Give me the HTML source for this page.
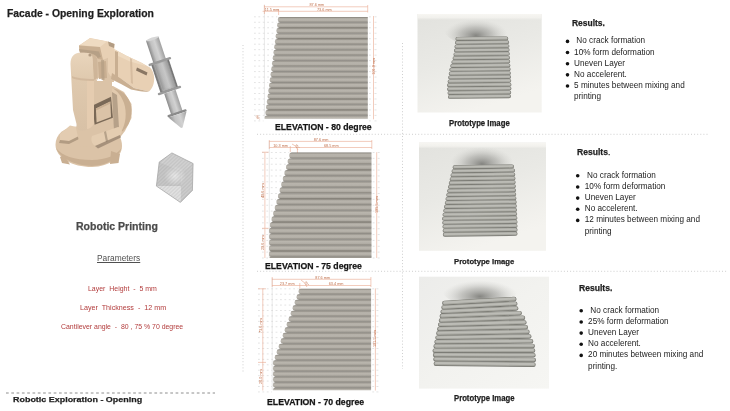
<!DOCTYPE html>
<html><head><meta charset="utf-8"><style>
html,body{margin:0;padding:0;background:#fff;}
body{width:730px;height:411px;overflow:hidden;position:relative;font-family:'Liberation Sans', sans-serif;}
.t{position:absolute;white-space:nowrap;line-height:1;transform-origin:0 0;}
.layer{position:absolute;left:0;top:0;width:730px;height:411px;will-change:transform;}
svg{position:absolute;left:0;top:0;will-change:transform;}
</style></head><body>
<svg width="730" height="411" viewBox="0 0 730 411">
<defs>
<linearGradient id="stripe" x1="0" y1="0" x2="0" y2="1">
 <stop offset="0" stop-color="#76726a"/>
 <stop offset="0.14" stop-color="#a29e96"/>
 <stop offset="0.35" stop-color="#b9b5ad"/>
 <stop offset="0.68" stop-color="#b3afa7"/>
 <stop offset="0.87" stop-color="#9b978f"/>
 <stop offset="1" stop-color="#706c64"/>
</linearGradient>
</defs>
<defs><linearGradient id="uarm" x1="0" y1="0" x2="0" y2="1">
<stop offset="0" stop-color="#e9d5bc"/><stop offset="0.35" stop-color="#dfc9ae"/><stop offset="1" stop-color="#d8c1a6"/></linearGradient></defs>
<g id="robot">
<path d="M55.5,145 C55.5,134 64,127 78,126.5 L108,128 C117,130 122,137 122,146 C122,157 110,166.5 92,167 C72,167 56,158 55.5,145Z" fill="#dbc3a7"/>
<path d="M56,148 C60,158 74,165.5 92,166 C108,165.5 118,158 121.5,148 C117,155 106,160 92,160 C74,160 62,156 56,148Z" fill="#c9af92"/>
<path d="M64,155 L70,164.5 L62,163 L60,157Z" fill="#c9af92"/>
<path d="M111,151 L120,154 L118.5,163 L110,164Z" fill="#c9af92"/>
<path d="M60,134 L70,125.5 L79,127.5 L79,136 L69,141 L60,140Z" fill="#e3ccb1"/>
<path d="M60,140 L69,141 L79,136 L79,139 L69,144 L59,143Z" fill="#b29c83"/>
<path d="M92,76 L101,76 L104,80 L112,80 L112,90 L92,92Z" fill="#dbc3a7"/>
<path d="M96,76 L101,76 L103,81 L97,81Z" fill="#ffffff"/>
<path d="M86,86 L113,86 L124,92 L131.5,104 L131.5,118 L125,131 L118,140 L100,148 L80,146 L76,128Z" fill="#dbc3a7"/>
<path d="M112,88.5 C123,89.5 131.5,99 131.5,110 C131.5,121 127,129 121,132 L114,131Z" fill="#e2caae"/>
<path d="M113,88.5 C124,90 131.5,100 131.5,110 C131.5,121 127,129 121,132 C126,124 127,112 124,103 C121,95 117,91 113,88.5Z" fill="#c9af92"/>
<path d="M112,92 L117,95 L119,128 L114,131Z" fill="#8a7764" opacity="0.5"/>
<path d="M92.6,105.5 L111,96.8 L112.9,117.8 L94.6,124.8Z" fill="#7a6957"/>
<path d="M95.9,108.4 L110.3,101.6 L111,117 L96.6,122.4Z" fill="#dbc3a7"/>
<path d="M95.9,108.4 L110.3,101.6 L110.4,103.6 L96.1,110.4Z" fill="#c9af92"/>
<path d="M92,136 L118,127 C122,127 123,132 120,135 L97,145.5 C93,147 90,140 92,136Z" fill="#e4cdb1"/>
<path d="M95,146 L120,135 L121,137.5 L98,148.5Z" fill="#8a7764" opacity="0.65"/>
<path d="M104,132 L106,131 L108,141 L106,142Z" fill="#8a7764" opacity="0.5"/>
<path d="M96,50 L112,48 L114,82 L104,82 L101,75 L97,80Z" fill="#dbc3a7"/>
<path d="M98,62 L106,61 L107,78 L99,79Z" fill="#c9af92"/>
<path d="M101,58 L104,57.5 L104.5,80 L101.5,80Z" fill="#b29c83" opacity="0.7"/>
<path d="M70.5,64 C70.5,56 75,52.5 81,52.5 L91,52.5 C95.5,53 97.7,56 97.7,61 L97.7,78 L94,80 L94,124 C91,129 84,132 78,130 L73,110 L70.5,64Z" fill="url(#uarm)"/>
<path d="M87,80 L94,80 L94,124 C92,127 89,129 87,129Z" fill="#e5ccb0"/>
<path d="M91,53 C95.5,54 97.7,57 97.7,62 L97.7,78 L94,80 L93,66 C93,60 93,56 91,53Z" fill="#c9af92" opacity="0.8"/>
<path d="M72,76 C76,78 84,79 94,79 L94,81 C84,81 76,80 72,78Z" fill="#c9af92" opacity="0.6"/>
<circle cx="90" cy="55" r="1.6" fill="#b29c83"/>
<path d="M79,45.5 L90,38 L108,41.5 L114.5,44 L114,55 L103,60 L97.7,59 C95,53 90,52 80,52.5 L79,50Z" fill="#e8d0b4"/>
<path d="M80,45 L90,38.3 L107,41.6 L100,47 Z" fill="#efdbc2"/>
<path d="M79,45.5 L100,47 L103,60 L97.7,59 C96,54 90,52.5 80,52.5Z" fill="#c9af92"/>
<path d="M79,49 L99,51.5 L101,57 L97.7,58 C96,54 90,52.5 80,52.5Z" fill="#b29c83" opacity="0.8"/>
<path d="M108,41.5 L114.5,44 L114,48 L109,46Z" fill="#b29c83"/>
<path d="M108,49 L114,49 L126,55.5 L142,63 L150,67.5 C155,72 156.5,85 149,91.5 L134,88 L123,80 L110.5,76 L108,72Z" fill="#e8d0b4"/>
<path d="M112,73 L123,80 L134,88 L149,91.5 C144,92.5 138,91 131,89.5 L121,84 L111,79Z" fill="#c9af92"/>
<path d="M114,49 L126,55.5 L142,63 L146,66 L130,61.5 L116,55Z" fill="#efdbc2"/>
<path d="M137,67.5 L147.5,72.5 L146.5,75.5 L136,70.5Z" fill="#8a7764"/>
<path d="M115,51 L118,52 L118,78 L115,77Z" fill="#c9af92"/>
<path d="M130,58 L132,59 L133,84 L131,83Z" fill="#c9af92" opacity="0.6"/>
</g>
<defs><linearGradient id="cyl" x1="0" y1="0" x2="1" y2="0">
<stop offset="0" stop-color="#8a8a8a"/><stop offset="0.3" stop-color="#c2c2c2"/><stop offset="0.6" stop-color="#d2d2d2"/><stop offset="1" stop-color="#a0a0a0"/></linearGradient>
<linearGradient id="cyl2" x1="0" y1="0" x2="1" y2="0">
<stop offset="0" stop-color="#6a6a6a"/><stop offset="0.15" stop-color="#a8a8a8"/><stop offset="0.6" stop-color="#bdbdbd"/><stop offset="0.88" stop-color="#a0a0a0"/><stop offset="1" stop-color="#666"/></linearGradient></defs>
<g transform="translate(152.2,38.6) rotate(-18.4)">
<rect x="-6.6" y="0" width="13.2" height="24" fill="url(#cyl)"/>
<ellipse cx="0" cy="0.3" rx="6.6" ry="1.4" fill="#d6d6d6"/>
<rect x="-8.8" y="24" width="17.6" height="30" fill="url(#cyl2)" stroke="#6a6a6a" stroke-width="0.6"/>
<rect x="-6" y="26" width="12" height="26" fill="url(#cyl)" opacity="0.5"/>
<rect x="-11.8" y="23" width="23.6" height="2.4" rx="1" fill="#9a9a9a"/>
<rect x="-12.2" y="53.5" width="24.4" height="2.4" rx="1" fill="#9a9a9a"/>
<rect x="-6" y="56" width="12" height="22" fill="url(#cyl)"/>
<rect x="-10" y="77.5" width="20" height="2.4" rx="1" fill="#8a8a8a"/>
<path d="M-9.5,80 L9.5,80 L0.8,94 L-0.8,94Z" fill="url(#cyl)"/>
</g>
<defs><pattern id="hatch" width="1.3" height="1.3" patternUnits="userSpaceOnUse" patternTransform="rotate(20)">
<line x1="0" y1="0.3" x2="1.3" y2="0.3" stroke="#6a6a6a" stroke-width="0.45"/></pattern>
<pattern id="hatch2" width="1.3" height="1.3" patternUnits="userSpaceOnUse" patternTransform="rotate(-60)">
<line x1="0" y1="0.3" x2="1.3" y2="0.3" stroke="#6a6a6a" stroke-width="0.45"/></pattern>
<radialGradient id="cubec" cx="0.5" cy="0.5" r="0.5"><stop offset="0" stop-color="#ebebeb"/><stop offset="1" stop-color="#ebebeb" stop-opacity="0"/></radialGradient></defs>
<g id="cube">
<polygon points="171.9,152.9 193.1,163.5 192.4,190.4 180.4,202.4 156.4,186.1 159.2,162.1" fill="#e0e0e0"/>
<polygon points="171.9,152.9 193.1,163.5 181.8,171.3 159.2,162.1" fill="#d2d2d2"/>
<polygon points="159.2,162.1 181.8,171.3 181,186 156.4,186.1" fill="#c8c8c8"/>
<polygon points="181.8,171.3 193.1,163.5 192.4,190.4 180.4,202.4 181,186" fill="#cdcdcd"/>
<polygon points="156.4,186.1 181,186 180.4,202.4" fill="#e2e2e2"/>
<ellipse cx="175" cy="176" rx="11" ry="10" fill="url(#cubec)"/>
<polygon points="171.9,152.9 193.1,163.5 192.4,190.4 180.4,202.4 156.4,186.1 159.2,162.1" fill="url(#hatch)" opacity="0.2"/>
<polygon points="171.9,152.9 193.1,163.5 192.4,190.4 180.4,202.4 156.4,186.1 159.2,162.1" fill="none" stroke="#a4a4a4" stroke-width="0.7"/>
</g>
<line x1="243" y1="45" x2="243" y2="373" stroke="#cacaca" stroke-width="0.9" stroke-dasharray="1 2.1"/>
<line x1="402.5" y1="43" x2="402.5" y2="369" stroke="#cacaca" stroke-width="0.9" stroke-dasharray="1 2.1"/>
<line x1="257" y1="134.3" x2="709" y2="134.3" stroke="#cacaca" stroke-width="0.9" stroke-dasharray="1 2.1"/>
<line x1="257" y1="271.3" x2="727" y2="271.3" stroke="#cacaca" stroke-width="0.9" stroke-dasharray="1 2.1"/>
<line x1="6" y1="393" x2="215" y2="393" stroke="#8e8e8e" stroke-width="1" stroke-dasharray="2.7 2.6"/>
<defs>
<radialGradient id="shadow" cx="0.5" cy="0.7" r="0.5">
 <stop offset="0" stop-color="#80807c" stop-opacity="0.95"/>
 <stop offset="0.5" stop-color="#a0a09c" stop-opacity="0.55"/>
 <stop offset="1" stop-color="#c8c8c4" stop-opacity="0"/>
</radialGradient>
<linearGradient id="pbg1" x1="0" y1="0" x2="0.4" y2="1">
 <stop offset="0" stop-color="#e2e2de"/>
 <stop offset="0.5" stop-color="#e9e9e5"/>
 <stop offset="1" stop-color="#f4f3ef"/>
</linearGradient>
<linearGradient id="topfade" x1="0" y1="0" x2="0" y2="1">
 <stop offset="0" stop-color="#f7f6f2" stop-opacity="1"/>
 <stop offset="0.6" stop-color="#f5f4f0" stop-opacity="0.8"/>
 <stop offset="1" stop-color="#f2f1ed" stop-opacity="0"/>
</linearGradient>
<linearGradient id="pbg3" x1="0" y1="0" x2="1" y2="1">
 <stop offset="0" stop-color="#ececea"/>
 <stop offset="0.5" stop-color="#f2f2ef"/>
 <stop offset="1" stop-color="#f6f6f3"/>
</linearGradient>
</defs>
<rect x="417.5" y="14" width="124.20" height="98.50" fill="url(#pbg1)"/>
<rect x="417.5" y="14" width="124.20" height="6" fill="url(#topfade)"/>
<ellipse cx="476" cy="29" rx="32" ry="16" fill="url(#shadow)"/>
<line x1="457.45" y1="38.93" x2="506.28" y2="38.43" stroke="#73736d" stroke-width="3.94" stroke-linecap="round"/>
<line x1="457.45" y1="38.70" x2="506.28" y2="38.20" stroke="#a5a59e" stroke-width="3.09" stroke-linecap="round"/>
<line x1="457.45" y1="38.47" x2="506.28" y2="37.97" stroke="#bcbcb6" stroke-width="1.74" stroke-linecap="round"/>
<line x1="456.95" y1="42.79" x2="507.19" y2="42.28" stroke="#73736d" stroke-width="3.94" stroke-linecap="round"/>
<line x1="456.95" y1="42.56" x2="507.19" y2="42.05" stroke="#a5a59e" stroke-width="3.09" stroke-linecap="round"/>
<line x1="456.95" y1="42.33" x2="507.19" y2="41.82" stroke="#bcbcb6" stroke-width="1.74" stroke-linecap="round"/>
<line x1="456.44" y1="46.66" x2="507.40" y2="46.14" stroke="#73736d" stroke-width="3.94" stroke-linecap="round"/>
<line x1="456.44" y1="46.42" x2="507.40" y2="45.91" stroke="#a5a59e" stroke-width="3.09" stroke-linecap="round"/>
<line x1="456.44" y1="46.19" x2="507.40" y2="45.68" stroke="#bcbcb6" stroke-width="1.74" stroke-linecap="round"/>
<line x1="455.94" y1="50.52" x2="507.61" y2="50.00" stroke="#73736d" stroke-width="3.94" stroke-linecap="round"/>
<line x1="455.94" y1="50.29" x2="507.61" y2="49.77" stroke="#a5a59e" stroke-width="3.09" stroke-linecap="round"/>
<line x1="455.94" y1="50.06" x2="507.61" y2="49.53" stroke="#bcbcb6" stroke-width="1.74" stroke-linecap="round"/>
<line x1="455.44" y1="54.38" x2="507.81" y2="53.85" stroke="#73736d" stroke-width="3.94" stroke-linecap="round"/>
<line x1="455.44" y1="54.15" x2="507.81" y2="53.62" stroke="#a5a59e" stroke-width="3.09" stroke-linecap="round"/>
<line x1="455.44" y1="53.92" x2="507.81" y2="53.39" stroke="#bcbcb6" stroke-width="1.74" stroke-linecap="round"/>
<line x1="454.56" y1="58.24" x2="508.02" y2="57.71" stroke="#73736d" stroke-width="3.94" stroke-linecap="round"/>
<line x1="454.56" y1="58.01" x2="508.02" y2="57.48" stroke="#a5a59e" stroke-width="3.09" stroke-linecap="round"/>
<line x1="454.56" y1="57.78" x2="508.02" y2="57.25" stroke="#bcbcb6" stroke-width="1.74" stroke-linecap="round"/>
<line x1="453.40" y1="62.11" x2="508.23" y2="61.57" stroke="#73736d" stroke-width="3.94" stroke-linecap="round"/>
<line x1="453.40" y1="61.87" x2="508.23" y2="61.33" stroke="#a5a59e" stroke-width="3.09" stroke-linecap="round"/>
<line x1="453.40" y1="61.64" x2="508.23" y2="61.10" stroke="#bcbcb6" stroke-width="1.74" stroke-linecap="round"/>
<line x1="452.25" y1="65.97" x2="508.43" y2="65.42" stroke="#73736d" stroke-width="3.94" stroke-linecap="round"/>
<line x1="452.25" y1="65.74" x2="508.43" y2="65.19" stroke="#a5a59e" stroke-width="3.09" stroke-linecap="round"/>
<line x1="452.25" y1="65.51" x2="508.43" y2="64.96" stroke="#bcbcb6" stroke-width="1.74" stroke-linecap="round"/>
<line x1="451.27" y1="69.83" x2="508.64" y2="69.28" stroke="#73736d" stroke-width="3.94" stroke-linecap="round"/>
<line x1="451.27" y1="69.60" x2="508.64" y2="69.05" stroke="#a5a59e" stroke-width="3.09" stroke-linecap="round"/>
<line x1="451.27" y1="69.37" x2="508.64" y2="68.81" stroke="#bcbcb6" stroke-width="1.74" stroke-linecap="round"/>
<line x1="450.70" y1="73.69" x2="508.85" y2="73.13" stroke="#73736d" stroke-width="3.94" stroke-linecap="round"/>
<line x1="450.70" y1="73.46" x2="508.85" y2="72.90" stroke="#a5a59e" stroke-width="3.09" stroke-linecap="round"/>
<line x1="450.70" y1="73.23" x2="508.85" y2="72.67" stroke="#bcbcb6" stroke-width="1.74" stroke-linecap="round"/>
<line x1="450.14" y1="77.56" x2="509.05" y2="76.99" stroke="#73736d" stroke-width="3.94" stroke-linecap="round"/>
<line x1="450.14" y1="77.32" x2="509.05" y2="76.76" stroke="#a5a59e" stroke-width="3.09" stroke-linecap="round"/>
<line x1="450.14" y1="77.09" x2="509.05" y2="76.53" stroke="#bcbcb6" stroke-width="1.74" stroke-linecap="round"/>
<line x1="449.58" y1="81.42" x2="509.26" y2="80.85" stroke="#73736d" stroke-width="3.94" stroke-linecap="round"/>
<line x1="449.58" y1="81.19" x2="509.26" y2="80.62" stroke="#a5a59e" stroke-width="3.09" stroke-linecap="round"/>
<line x1="449.58" y1="80.96" x2="509.26" y2="80.38" stroke="#bcbcb6" stroke-width="1.74" stroke-linecap="round"/>
<line x1="449.02" y1="85.28" x2="509.47" y2="84.70" stroke="#73736d" stroke-width="3.94" stroke-linecap="round"/>
<line x1="449.02" y1="85.05" x2="509.47" y2="84.47" stroke="#a5a59e" stroke-width="3.09" stroke-linecap="round"/>
<line x1="449.02" y1="84.82" x2="509.47" y2="84.24" stroke="#bcbcb6" stroke-width="1.74" stroke-linecap="round"/>
<line x1="449.10" y1="89.14" x2="509.46" y2="88.56" stroke="#73736d" stroke-width="3.94" stroke-linecap="round"/>
<line x1="449.10" y1="88.91" x2="509.46" y2="88.33" stroke="#a5a59e" stroke-width="3.09" stroke-linecap="round"/>
<line x1="449.10" y1="88.68" x2="509.46" y2="88.10" stroke="#bcbcb6" stroke-width="1.74" stroke-linecap="round"/>
<line x1="449.50" y1="93.01" x2="509.24" y2="92.42" stroke="#73736d" stroke-width="3.94" stroke-linecap="round"/>
<line x1="449.50" y1="92.77" x2="509.24" y2="92.18" stroke="#a5a59e" stroke-width="3.09" stroke-linecap="round"/>
<line x1="449.50" y1="92.54" x2="509.24" y2="91.95" stroke="#bcbcb6" stroke-width="1.74" stroke-linecap="round"/>
<line x1="449.91" y1="96.87" x2="509.02" y2="96.27" stroke="#73736d" stroke-width="3.94" stroke-linecap="round"/>
<line x1="449.91" y1="96.64" x2="509.02" y2="96.04" stroke="#a5a59e" stroke-width="3.09" stroke-linecap="round"/>
<line x1="449.91" y1="96.41" x2="509.02" y2="95.81" stroke="#bcbcb6" stroke-width="1.74" stroke-linecap="round"/>
<rect x="419" y="142.6" width="127.00" height="108.20" fill="url(#pbg1)"/>
<rect x="419" y="142.6" width="127.00" height="6" fill="url(#topfade)"/>
<ellipse cx="482" cy="157" rx="32" ry="17" fill="url(#shadow)"/>
<line x1="454.62" y1="167.28" x2="512.02" y2="166.48" stroke="#73736d" stroke-width="4.04" stroke-linecap="round"/>
<line x1="454.62" y1="167.04" x2="512.02" y2="166.24" stroke="#a5a59e" stroke-width="3.17" stroke-linecap="round"/>
<line x1="454.62" y1="166.81" x2="512.02" y2="166.01" stroke="#bcbcb6" stroke-width="1.78" stroke-linecap="round"/>
<line x1="453.57" y1="171.24" x2="513.04" y2="170.44" stroke="#73736d" stroke-width="4.04" stroke-linecap="round"/>
<line x1="453.57" y1="171.00" x2="513.04" y2="170.20" stroke="#a5a59e" stroke-width="3.17" stroke-linecap="round"/>
<line x1="453.57" y1="170.77" x2="513.04" y2="169.97" stroke="#bcbcb6" stroke-width="1.78" stroke-linecap="round"/>
<line x1="452.54" y1="175.20" x2="513.24" y2="174.40" stroke="#73736d" stroke-width="4.04" stroke-linecap="round"/>
<line x1="452.54" y1="174.97" x2="513.24" y2="174.17" stroke="#a5a59e" stroke-width="3.17" stroke-linecap="round"/>
<line x1="452.54" y1="174.73" x2="513.24" y2="173.93" stroke="#bcbcb6" stroke-width="1.78" stroke-linecap="round"/>
<line x1="451.69" y1="179.16" x2="513.43" y2="178.36" stroke="#73736d" stroke-width="4.04" stroke-linecap="round"/>
<line x1="451.69" y1="178.93" x2="513.43" y2="178.13" stroke="#a5a59e" stroke-width="3.17" stroke-linecap="round"/>
<line x1="451.69" y1="178.69" x2="513.43" y2="177.89" stroke="#bcbcb6" stroke-width="1.78" stroke-linecap="round"/>
<line x1="450.83" y1="183.12" x2="513.63" y2="182.32" stroke="#73736d" stroke-width="4.04" stroke-linecap="round"/>
<line x1="450.83" y1="182.89" x2="513.63" y2="182.09" stroke="#a5a59e" stroke-width="3.17" stroke-linecap="round"/>
<line x1="450.83" y1="182.65" x2="513.63" y2="181.85" stroke="#bcbcb6" stroke-width="1.78" stroke-linecap="round"/>
<line x1="449.98" y1="187.09" x2="513.82" y2="186.29" stroke="#73736d" stroke-width="4.04" stroke-linecap="round"/>
<line x1="449.98" y1="186.85" x2="513.82" y2="186.05" stroke="#a5a59e" stroke-width="3.17" stroke-linecap="round"/>
<line x1="449.98" y1="186.61" x2="513.82" y2="185.81" stroke="#bcbcb6" stroke-width="1.78" stroke-linecap="round"/>
<line x1="449.13" y1="191.05" x2="514.02" y2="190.25" stroke="#73736d" stroke-width="4.04" stroke-linecap="round"/>
<line x1="449.13" y1="190.81" x2="514.02" y2="190.01" stroke="#a5a59e" stroke-width="3.17" stroke-linecap="round"/>
<line x1="449.13" y1="190.57" x2="514.02" y2="189.77" stroke="#bcbcb6" stroke-width="1.78" stroke-linecap="round"/>
<line x1="448.28" y1="195.01" x2="514.22" y2="194.21" stroke="#73736d" stroke-width="4.04" stroke-linecap="round"/>
<line x1="448.28" y1="194.77" x2="514.22" y2="193.97" stroke="#a5a59e" stroke-width="3.17" stroke-linecap="round"/>
<line x1="448.28" y1="194.53" x2="514.22" y2="193.73" stroke="#bcbcb6" stroke-width="1.78" stroke-linecap="round"/>
<line x1="447.53" y1="198.97" x2="514.41" y2="198.17" stroke="#73736d" stroke-width="4.04" stroke-linecap="round"/>
<line x1="447.53" y1="198.73" x2="514.41" y2="197.93" stroke="#a5a59e" stroke-width="3.17" stroke-linecap="round"/>
<line x1="447.53" y1="198.49" x2="514.41" y2="197.69" stroke="#bcbcb6" stroke-width="1.78" stroke-linecap="round"/>
<line x1="446.78" y1="202.93" x2="514.61" y2="202.13" stroke="#73736d" stroke-width="4.04" stroke-linecap="round"/>
<line x1="446.78" y1="202.69" x2="514.61" y2="201.89" stroke="#a5a59e" stroke-width="3.17" stroke-linecap="round"/>
<line x1="446.78" y1="202.46" x2="514.61" y2="201.66" stroke="#bcbcb6" stroke-width="1.78" stroke-linecap="round"/>
<line x1="446.03" y1="206.89" x2="514.80" y2="206.09" stroke="#73736d" stroke-width="4.04" stroke-linecap="round"/>
<line x1="446.03" y1="206.65" x2="514.80" y2="205.85" stroke="#a5a59e" stroke-width="3.17" stroke-linecap="round"/>
<line x1="446.03" y1="206.42" x2="514.80" y2="205.62" stroke="#bcbcb6" stroke-width="1.78" stroke-linecap="round"/>
<line x1="445.28" y1="210.85" x2="515.00" y2="210.05" stroke="#73736d" stroke-width="4.04" stroke-linecap="round"/>
<line x1="445.28" y1="210.62" x2="515.00" y2="209.82" stroke="#a5a59e" stroke-width="3.17" stroke-linecap="round"/>
<line x1="445.28" y1="210.38" x2="515.00" y2="209.58" stroke="#bcbcb6" stroke-width="1.78" stroke-linecap="round"/>
<line x1="444.53" y1="214.81" x2="515.19" y2="214.01" stroke="#73736d" stroke-width="4.04" stroke-linecap="round"/>
<line x1="444.53" y1="214.58" x2="515.19" y2="213.78" stroke="#a5a59e" stroke-width="3.17" stroke-linecap="round"/>
<line x1="444.53" y1="214.34" x2="515.19" y2="213.54" stroke="#bcbcb6" stroke-width="1.78" stroke-linecap="round"/>
<line x1="444.04" y1="218.78" x2="515.39" y2="217.98" stroke="#73736d" stroke-width="4.04" stroke-linecap="round"/>
<line x1="444.04" y1="218.54" x2="515.39" y2="217.74" stroke="#a5a59e" stroke-width="3.17" stroke-linecap="round"/>
<line x1="444.04" y1="218.30" x2="515.39" y2="217.50" stroke="#bcbcb6" stroke-width="1.78" stroke-linecap="round"/>
<line x1="444.24" y1="222.74" x2="515.52" y2="221.94" stroke="#73736d" stroke-width="4.04" stroke-linecap="round"/>
<line x1="444.24" y1="222.50" x2="515.52" y2="221.70" stroke="#a5a59e" stroke-width="3.17" stroke-linecap="round"/>
<line x1="444.24" y1="222.26" x2="515.52" y2="221.46" stroke="#bcbcb6" stroke-width="1.78" stroke-linecap="round"/>
<line x1="444.45" y1="226.70" x2="515.52" y2="225.90" stroke="#73736d" stroke-width="4.04" stroke-linecap="round"/>
<line x1="444.45" y1="226.46" x2="515.52" y2="225.66" stroke="#a5a59e" stroke-width="3.17" stroke-linecap="round"/>
<line x1="444.45" y1="226.22" x2="515.52" y2="225.42" stroke="#bcbcb6" stroke-width="1.78" stroke-linecap="round"/>
<line x1="444.65" y1="230.66" x2="515.52" y2="229.86" stroke="#73736d" stroke-width="4.04" stroke-linecap="round"/>
<line x1="444.65" y1="230.42" x2="515.52" y2="229.62" stroke="#a5a59e" stroke-width="3.17" stroke-linecap="round"/>
<line x1="444.65" y1="230.18" x2="515.52" y2="229.38" stroke="#bcbcb6" stroke-width="1.78" stroke-linecap="round"/>
<line x1="444.86" y1="234.62" x2="515.52" y2="233.82" stroke="#73736d" stroke-width="4.04" stroke-linecap="round"/>
<line x1="444.86" y1="234.38" x2="515.52" y2="233.58" stroke="#a5a59e" stroke-width="3.17" stroke-linecap="round"/>
<line x1="444.86" y1="234.14" x2="515.52" y2="233.34" stroke="#bcbcb6" stroke-width="1.78" stroke-linecap="round"/>
<rect x="419" y="276.7" width="130.00" height="111.90" fill="url(#pbg3)"/>
<ellipse cx="480" cy="290" rx="38" ry="16" fill="url(#shadow)"/>
<line x1="444.44" y1="303.16" x2="514.20" y2="299.14" stroke="#73736d" stroke-width="4.59" stroke-linecap="round"/>
<line x1="444.44" y1="302.89" x2="514.20" y2="298.87" stroke="#a5a59e" stroke-width="3.60" stroke-linecap="round"/>
<line x1="444.44" y1="302.62" x2="514.20" y2="298.60" stroke="#bcbcb6" stroke-width="2.02" stroke-linecap="round"/>
<line x1="443.60" y1="307.48" x2="515.17" y2="303.82" stroke="#73736d" stroke-width="4.59" stroke-linecap="round"/>
<line x1="443.60" y1="307.21" x2="515.17" y2="303.55" stroke="#a5a59e" stroke-width="3.60" stroke-linecap="round"/>
<line x1="443.60" y1="306.94" x2="515.17" y2="303.28" stroke="#bcbcb6" stroke-width="2.02" stroke-linecap="round"/>
<line x1="442.76" y1="311.80" x2="516.14" y2="308.50" stroke="#73736d" stroke-width="4.59" stroke-linecap="round"/>
<line x1="442.76" y1="311.53" x2="516.14" y2="308.23" stroke="#a5a59e" stroke-width="3.60" stroke-linecap="round"/>
<line x1="442.76" y1="311.26" x2="516.14" y2="307.96" stroke="#bcbcb6" stroke-width="2.02" stroke-linecap="round"/>
<line x1="441.92" y1="316.12" x2="519.63" y2="313.18" stroke="#73736d" stroke-width="4.59" stroke-linecap="round"/>
<line x1="441.92" y1="315.85" x2="519.63" y2="312.91" stroke="#a5a59e" stroke-width="3.60" stroke-linecap="round"/>
<line x1="441.92" y1="315.58" x2="519.63" y2="312.64" stroke="#bcbcb6" stroke-width="2.02" stroke-linecap="round"/>
<line x1="441.08" y1="320.44" x2="522.88" y2="317.86" stroke="#73736d" stroke-width="4.59" stroke-linecap="round"/>
<line x1="441.08" y1="320.17" x2="522.88" y2="317.59" stroke="#a5a59e" stroke-width="3.60" stroke-linecap="round"/>
<line x1="441.08" y1="319.90" x2="522.88" y2="317.32" stroke="#bcbcb6" stroke-width="2.02" stroke-linecap="round"/>
<line x1="440.24" y1="324.76" x2="524.33" y2="322.54" stroke="#73736d" stroke-width="4.59" stroke-linecap="round"/>
<line x1="440.24" y1="324.49" x2="524.33" y2="322.27" stroke="#a5a59e" stroke-width="3.60" stroke-linecap="round"/>
<line x1="440.24" y1="324.22" x2="524.33" y2="322.00" stroke="#bcbcb6" stroke-width="2.02" stroke-linecap="round"/>
<line x1="439.41" y1="329.08" x2="525.77" y2="327.22" stroke="#73736d" stroke-width="4.59" stroke-linecap="round"/>
<line x1="439.41" y1="328.81" x2="525.77" y2="326.95" stroke="#a5a59e" stroke-width="3.60" stroke-linecap="round"/>
<line x1="439.41" y1="328.54" x2="525.77" y2="326.68" stroke="#bcbcb6" stroke-width="2.02" stroke-linecap="round"/>
<line x1="438.51" y1="333.40" x2="527.35" y2="331.90" stroke="#73736d" stroke-width="4.59" stroke-linecap="round"/>
<line x1="438.51" y1="333.13" x2="527.35" y2="331.63" stroke="#a5a59e" stroke-width="3.60" stroke-linecap="round"/>
<line x1="438.51" y1="332.86" x2="527.35" y2="331.36" stroke="#bcbcb6" stroke-width="2.02" stroke-linecap="round"/>
<line x1="437.58" y1="337.72" x2="529.21" y2="336.58" stroke="#73736d" stroke-width="4.59" stroke-linecap="round"/>
<line x1="437.58" y1="337.45" x2="529.21" y2="336.31" stroke="#a5a59e" stroke-width="3.60" stroke-linecap="round"/>
<line x1="437.58" y1="337.18" x2="529.21" y2="336.04" stroke="#bcbcb6" stroke-width="2.02" stroke-linecap="round"/>
<line x1="436.65" y1="342.04" x2="531.06" y2="341.26" stroke="#73736d" stroke-width="4.59" stroke-linecap="round"/>
<line x1="436.65" y1="341.77" x2="531.06" y2="340.99" stroke="#a5a59e" stroke-width="3.60" stroke-linecap="round"/>
<line x1="436.65" y1="341.50" x2="531.06" y2="340.72" stroke="#bcbcb6" stroke-width="2.02" stroke-linecap="round"/>
<line x1="435.72" y1="346.36" x2="532.62" y2="345.94" stroke="#73736d" stroke-width="4.59" stroke-linecap="round"/>
<line x1="435.72" y1="346.09" x2="532.62" y2="345.67" stroke="#a5a59e" stroke-width="3.60" stroke-linecap="round"/>
<line x1="435.72" y1="345.82" x2="532.62" y2="345.40" stroke="#bcbcb6" stroke-width="2.02" stroke-linecap="round"/>
<line x1="434.80" y1="350.68" x2="533.00" y2="350.62" stroke="#73736d" stroke-width="4.59" stroke-linecap="round"/>
<line x1="434.80" y1="350.41" x2="533.00" y2="350.35" stroke="#a5a59e" stroke-width="3.60" stroke-linecap="round"/>
<line x1="434.80" y1="350.14" x2="533.00" y2="350.08" stroke="#bcbcb6" stroke-width="2.02" stroke-linecap="round"/>
<line x1="435.13" y1="355.00" x2="533.37" y2="355.30" stroke="#73736d" stroke-width="4.59" stroke-linecap="round"/>
<line x1="435.13" y1="354.73" x2="533.37" y2="355.03" stroke="#a5a59e" stroke-width="3.60" stroke-linecap="round"/>
<line x1="435.13" y1="354.46" x2="533.37" y2="354.76" stroke="#bcbcb6" stroke-width="2.02" stroke-linecap="round"/>
<line x1="435.53" y1="359.32" x2="533.74" y2="359.98" stroke="#73736d" stroke-width="4.59" stroke-linecap="round"/>
<line x1="435.53" y1="359.05" x2="533.74" y2="359.71" stroke="#a5a59e" stroke-width="3.60" stroke-linecap="round"/>
<line x1="435.53" y1="358.78" x2="533.74" y2="359.44" stroke="#bcbcb6" stroke-width="2.02" stroke-linecap="round"/>
<line x1="435.94" y1="363.64" x2="533.42" y2="364.66" stroke="#73736d" stroke-width="4.59" stroke-linecap="round"/>
<line x1="435.94" y1="363.37" x2="533.42" y2="364.39" stroke="#a5a59e" stroke-width="3.60" stroke-linecap="round"/>
<line x1="435.94" y1="363.10" x2="533.42" y2="364.12" stroke="#bcbcb6" stroke-width="2.02" stroke-linecap="round"/>
<line x1="254" y1="16.80" x2="277.20" y2="16.80" stroke="#d2d2d2" stroke-width="0.6" stroke-dasharray="1.8 2.6"/>
<line x1="369.0" y1="16.80" x2="370.8" y2="16.80" stroke="#d2d2d2" stroke-width="0.6"/>
<line x1="374.5" y1="16.80" x2="376.5" y2="16.80" stroke="#d2d2d2" stroke-width="0.6"/>
<line x1="254" y1="22.28" x2="276.46" y2="22.28" stroke="#d2d2d2" stroke-width="0.6" stroke-dasharray="1.8 2.6"/>
<line x1="369.0" y1="22.28" x2="370.8" y2="22.28" stroke="#d2d2d2" stroke-width="0.6"/>
<line x1="374.5" y1="22.28" x2="376.5" y2="22.28" stroke="#d2d2d2" stroke-width="0.6"/>
<line x1="254" y1="27.76" x2="275.73" y2="27.76" stroke="#d2d2d2" stroke-width="0.6" stroke-dasharray="1.8 2.6"/>
<line x1="369.0" y1="27.76" x2="370.8" y2="27.76" stroke="#d2d2d2" stroke-width="0.6"/>
<line x1="374.5" y1="27.76" x2="376.5" y2="27.76" stroke="#d2d2d2" stroke-width="0.6"/>
<line x1="254" y1="33.24" x2="274.99" y2="33.24" stroke="#d2d2d2" stroke-width="0.6" stroke-dasharray="1.8 2.6"/>
<line x1="369.0" y1="33.24" x2="370.8" y2="33.24" stroke="#d2d2d2" stroke-width="0.6"/>
<line x1="374.5" y1="33.24" x2="376.5" y2="33.24" stroke="#d2d2d2" stroke-width="0.6"/>
<line x1="254" y1="38.71" x2="274.25" y2="38.71" stroke="#d2d2d2" stroke-width="0.6" stroke-dasharray="1.8 2.6"/>
<line x1="369.0" y1="38.71" x2="370.8" y2="38.71" stroke="#d2d2d2" stroke-width="0.6"/>
<line x1="374.5" y1="38.71" x2="376.5" y2="38.71" stroke="#d2d2d2" stroke-width="0.6"/>
<line x1="254" y1="44.19" x2="273.52" y2="44.19" stroke="#d2d2d2" stroke-width="0.6" stroke-dasharray="1.8 2.6"/>
<line x1="369.0" y1="44.19" x2="370.8" y2="44.19" stroke="#d2d2d2" stroke-width="0.6"/>
<line x1="374.5" y1="44.19" x2="376.5" y2="44.19" stroke="#d2d2d2" stroke-width="0.6"/>
<line x1="254" y1="49.67" x2="272.78" y2="49.67" stroke="#d2d2d2" stroke-width="0.6" stroke-dasharray="1.8 2.6"/>
<line x1="369.0" y1="49.67" x2="370.8" y2="49.67" stroke="#d2d2d2" stroke-width="0.6"/>
<line x1="374.5" y1="49.67" x2="376.5" y2="49.67" stroke="#d2d2d2" stroke-width="0.6"/>
<line x1="254" y1="55.15" x2="272.04" y2="55.15" stroke="#d2d2d2" stroke-width="0.6" stroke-dasharray="1.8 2.6"/>
<line x1="369.0" y1="55.15" x2="370.8" y2="55.15" stroke="#d2d2d2" stroke-width="0.6"/>
<line x1="374.5" y1="55.15" x2="376.5" y2="55.15" stroke="#d2d2d2" stroke-width="0.6"/>
<line x1="254" y1="60.63" x2="271.31" y2="60.63" stroke="#d2d2d2" stroke-width="0.6" stroke-dasharray="1.8 2.6"/>
<line x1="369.0" y1="60.63" x2="370.8" y2="60.63" stroke="#d2d2d2" stroke-width="0.6"/>
<line x1="374.5" y1="60.63" x2="376.5" y2="60.63" stroke="#d2d2d2" stroke-width="0.6"/>
<line x1="254" y1="66.11" x2="270.57" y2="66.11" stroke="#d2d2d2" stroke-width="0.6" stroke-dasharray="1.8 2.6"/>
<line x1="369.0" y1="66.11" x2="370.8" y2="66.11" stroke="#d2d2d2" stroke-width="0.6"/>
<line x1="374.5" y1="66.11" x2="376.5" y2="66.11" stroke="#d2d2d2" stroke-width="0.6"/>
<line x1="254" y1="71.58" x2="269.83" y2="71.58" stroke="#d2d2d2" stroke-width="0.6" stroke-dasharray="1.8 2.6"/>
<line x1="369.0" y1="71.58" x2="370.8" y2="71.58" stroke="#d2d2d2" stroke-width="0.6"/>
<line x1="374.5" y1="71.58" x2="376.5" y2="71.58" stroke="#d2d2d2" stroke-width="0.6"/>
<line x1="254" y1="77.06" x2="269.10" y2="77.06" stroke="#d2d2d2" stroke-width="0.6" stroke-dasharray="1.8 2.6"/>
<line x1="369.0" y1="77.06" x2="370.8" y2="77.06" stroke="#d2d2d2" stroke-width="0.6"/>
<line x1="374.5" y1="77.06" x2="376.5" y2="77.06" stroke="#d2d2d2" stroke-width="0.6"/>
<line x1="254" y1="82.54" x2="268.36" y2="82.54" stroke="#d2d2d2" stroke-width="0.6" stroke-dasharray="1.8 2.6"/>
<line x1="369.0" y1="82.54" x2="370.8" y2="82.54" stroke="#d2d2d2" stroke-width="0.6"/>
<line x1="374.5" y1="82.54" x2="376.5" y2="82.54" stroke="#d2d2d2" stroke-width="0.6"/>
<line x1="254" y1="88.02" x2="267.62" y2="88.02" stroke="#d2d2d2" stroke-width="0.6" stroke-dasharray="1.8 2.6"/>
<line x1="369.0" y1="88.02" x2="370.8" y2="88.02" stroke="#d2d2d2" stroke-width="0.6"/>
<line x1="374.5" y1="88.02" x2="376.5" y2="88.02" stroke="#d2d2d2" stroke-width="0.6"/>
<line x1="254" y1="93.50" x2="266.89" y2="93.50" stroke="#d2d2d2" stroke-width="0.6" stroke-dasharray="1.8 2.6"/>
<line x1="369.0" y1="93.50" x2="370.8" y2="93.50" stroke="#d2d2d2" stroke-width="0.6"/>
<line x1="374.5" y1="93.50" x2="376.5" y2="93.50" stroke="#d2d2d2" stroke-width="0.6"/>
<line x1="254" y1="98.98" x2="266.15" y2="98.98" stroke="#d2d2d2" stroke-width="0.6" stroke-dasharray="1.8 2.6"/>
<line x1="369.0" y1="98.98" x2="370.8" y2="98.98" stroke="#d2d2d2" stroke-width="0.6"/>
<line x1="374.5" y1="98.98" x2="376.5" y2="98.98" stroke="#d2d2d2" stroke-width="0.6"/>
<line x1="254" y1="104.46" x2="265.42" y2="104.46" stroke="#d2d2d2" stroke-width="0.6" stroke-dasharray="1.8 2.6"/>
<line x1="369.0" y1="104.46" x2="370.8" y2="104.46" stroke="#d2d2d2" stroke-width="0.6"/>
<line x1="374.5" y1="104.46" x2="376.5" y2="104.46" stroke="#d2d2d2" stroke-width="0.6"/>
<line x1="254" y1="109.93" x2="264.68" y2="109.93" stroke="#d2d2d2" stroke-width="0.6" stroke-dasharray="1.8 2.6"/>
<line x1="369.0" y1="109.93" x2="370.8" y2="109.93" stroke="#d2d2d2" stroke-width="0.6"/>
<line x1="374.5" y1="109.93" x2="376.5" y2="109.93" stroke="#d2d2d2" stroke-width="0.6"/>
<line x1="254" y1="115.41" x2="263.94" y2="115.41" stroke="#d2d2d2" stroke-width="0.6" stroke-dasharray="1.8 2.6"/>
<line x1="369.0" y1="115.41" x2="370.8" y2="115.41" stroke="#d2d2d2" stroke-width="0.6"/>
<line x1="374.5" y1="115.41" x2="376.5" y2="115.41" stroke="#d2d2d2" stroke-width="0.6"/>
<line x1="254" y1="120.89" x2="263.50" y2="120.89" stroke="#d2d2d2" stroke-width="0.6" stroke-dasharray="1.8 2.6"/>
<line x1="369.0" y1="120.89" x2="370.8" y2="120.89" stroke="#d2d2d2" stroke-width="0.6"/>
<line x1="374.5" y1="120.89" x2="376.5" y2="120.89" stroke="#d2d2d2" stroke-width="0.6"/>
<line x1="264.4" y1="4.5" x2="264.4" y2="118" stroke="#d2d2d2" stroke-width="0.5"/>
<line x1="264" y1="6.8" x2="367.7" y2="6.8" stroke="#e8a286" stroke-width="0.55"/>
<line x1="262.6" y1="11.3" x2="367.7" y2="11.3" stroke="#e8a286" stroke-width="0.55"/>
<line x1="264.4" y1="5" x2="264.4" y2="14" stroke="#e8a286" stroke-width="0.55"/>
<line x1="278.6" y1="9" x2="278.6" y2="15" stroke="#e8a286" stroke-width="0.55"/>
<line x1="367.7" y1="5" x2="367.7" y2="12.5" stroke="#e8a286" stroke-width="0.55"/>
<text x="309.5" y="6.2" font-size="3.8" fill="#c0714d" font-family="Liberation Sans" text-anchor="start">87.6 mm</text>
<text x="264.8" y="10.7" font-size="3.8" fill="#c0714d" font-family="Liberation Sans" text-anchor="start">11.5 mm</text>
<text x="317" y="10.7" font-size="3.8" fill="#c0714d" font-family="Liberation Sans" text-anchor="start">73.6 mm</text>
<line x1="373.5" y1="16" x2="373.5" y2="119.3" stroke="#e8a286" stroke-width="0.55"/>
<text x="374.6" y="74.6" font-size="3.8" fill="#c0714d" font-family="Liberation Sans" text-anchor="start" transform="rotate(-90 374.6 74.6)">101.9 mm</text>
<text x="255.5" y="116" font-size="3.6" fill="#c0714d" font-family="Liberation Sans" text-anchor="start" transform="rotate(60 255.5 116)">80°</text>
<line x1="262" y1="152.50" x2="289.10" y2="152.50" stroke="#d2d2d2" stroke-width="0.6" stroke-dasharray="1.8 2.6"/>
<line x1="372.7" y1="152.50" x2="374.5" y2="152.50" stroke="#d2d2d2" stroke-width="0.6"/>
<line x1="377.7" y1="152.50" x2="379.7" y2="152.50" stroke="#d2d2d2" stroke-width="0.6"/>
<line x1="262" y1="158.36" x2="287.47" y2="158.36" stroke="#d2d2d2" stroke-width="0.6" stroke-dasharray="1.8 2.6"/>
<line x1="372.7" y1="158.36" x2="374.5" y2="158.36" stroke="#d2d2d2" stroke-width="0.6"/>
<line x1="377.7" y1="158.36" x2="379.7" y2="158.36" stroke="#d2d2d2" stroke-width="0.6"/>
<line x1="262" y1="164.22" x2="285.84" y2="164.22" stroke="#d2d2d2" stroke-width="0.6" stroke-dasharray="1.8 2.6"/>
<line x1="372.7" y1="164.22" x2="374.5" y2="164.22" stroke="#d2d2d2" stroke-width="0.6"/>
<line x1="377.7" y1="164.22" x2="379.7" y2="164.22" stroke="#d2d2d2" stroke-width="0.6"/>
<line x1="262" y1="170.08" x2="284.21" y2="170.08" stroke="#d2d2d2" stroke-width="0.6" stroke-dasharray="1.8 2.6"/>
<line x1="372.7" y1="170.08" x2="374.5" y2="170.08" stroke="#d2d2d2" stroke-width="0.6"/>
<line x1="377.7" y1="170.08" x2="379.7" y2="170.08" stroke="#d2d2d2" stroke-width="0.6"/>
<line x1="262" y1="175.94" x2="282.57" y2="175.94" stroke="#d2d2d2" stroke-width="0.6" stroke-dasharray="1.8 2.6"/>
<line x1="372.7" y1="175.94" x2="374.5" y2="175.94" stroke="#d2d2d2" stroke-width="0.6"/>
<line x1="377.7" y1="175.94" x2="379.7" y2="175.94" stroke="#d2d2d2" stroke-width="0.6"/>
<line x1="262" y1="181.81" x2="280.94" y2="181.81" stroke="#d2d2d2" stroke-width="0.6" stroke-dasharray="1.8 2.6"/>
<line x1="372.7" y1="181.81" x2="374.5" y2="181.81" stroke="#d2d2d2" stroke-width="0.6"/>
<line x1="377.7" y1="181.81" x2="379.7" y2="181.81" stroke="#d2d2d2" stroke-width="0.6"/>
<line x1="262" y1="187.67" x2="279.31" y2="187.67" stroke="#d2d2d2" stroke-width="0.6" stroke-dasharray="1.8 2.6"/>
<line x1="372.7" y1="187.67" x2="374.5" y2="187.67" stroke="#d2d2d2" stroke-width="0.6"/>
<line x1="377.7" y1="187.67" x2="379.7" y2="187.67" stroke="#d2d2d2" stroke-width="0.6"/>
<line x1="262" y1="193.53" x2="277.68" y2="193.53" stroke="#d2d2d2" stroke-width="0.6" stroke-dasharray="1.8 2.6"/>
<line x1="372.7" y1="193.53" x2="374.5" y2="193.53" stroke="#d2d2d2" stroke-width="0.6"/>
<line x1="377.7" y1="193.53" x2="379.7" y2="193.53" stroke="#d2d2d2" stroke-width="0.6"/>
<line x1="262" y1="199.39" x2="276.05" y2="199.39" stroke="#d2d2d2" stroke-width="0.6" stroke-dasharray="1.8 2.6"/>
<line x1="372.7" y1="199.39" x2="374.5" y2="199.39" stroke="#d2d2d2" stroke-width="0.6"/>
<line x1="377.7" y1="199.39" x2="379.7" y2="199.39" stroke="#d2d2d2" stroke-width="0.6"/>
<line x1="262" y1="205.25" x2="274.42" y2="205.25" stroke="#d2d2d2" stroke-width="0.6" stroke-dasharray="1.8 2.6"/>
<line x1="372.7" y1="205.25" x2="374.5" y2="205.25" stroke="#d2d2d2" stroke-width="0.6"/>
<line x1="377.7" y1="205.25" x2="379.7" y2="205.25" stroke="#d2d2d2" stroke-width="0.6"/>
<line x1="262" y1="211.11" x2="272.78" y2="211.11" stroke="#d2d2d2" stroke-width="0.6" stroke-dasharray="1.8 2.6"/>
<line x1="372.7" y1="211.11" x2="374.5" y2="211.11" stroke="#d2d2d2" stroke-width="0.6"/>
<line x1="377.7" y1="211.11" x2="379.7" y2="211.11" stroke="#d2d2d2" stroke-width="0.6"/>
<line x1="262" y1="216.97" x2="271.15" y2="216.97" stroke="#d2d2d2" stroke-width="0.6" stroke-dasharray="1.8 2.6"/>
<line x1="372.7" y1="216.97" x2="374.5" y2="216.97" stroke="#d2d2d2" stroke-width="0.6"/>
<line x1="377.7" y1="216.97" x2="379.7" y2="216.97" stroke="#d2d2d2" stroke-width="0.6"/>
<line x1="262" y1="222.83" x2="269.52" y2="222.83" stroke="#d2d2d2" stroke-width="0.6" stroke-dasharray="1.8 2.6"/>
<line x1="372.7" y1="222.83" x2="374.5" y2="222.83" stroke="#d2d2d2" stroke-width="0.6"/>
<line x1="377.7" y1="222.83" x2="379.7" y2="222.83" stroke="#d2d2d2" stroke-width="0.6"/>
<line x1="262" y1="228.69" x2="268.00" y2="228.69" stroke="#d2d2d2" stroke-width="0.6" stroke-dasharray="1.8 2.6"/>
<line x1="372.7" y1="228.69" x2="374.5" y2="228.69" stroke="#d2d2d2" stroke-width="0.6"/>
<line x1="377.7" y1="228.69" x2="379.7" y2="228.69" stroke="#d2d2d2" stroke-width="0.6"/>
<line x1="262" y1="234.56" x2="268.00" y2="234.56" stroke="#d2d2d2" stroke-width="0.6" stroke-dasharray="1.8 2.6"/>
<line x1="372.7" y1="234.56" x2="374.5" y2="234.56" stroke="#d2d2d2" stroke-width="0.6"/>
<line x1="377.7" y1="234.56" x2="379.7" y2="234.56" stroke="#d2d2d2" stroke-width="0.6"/>
<line x1="262" y1="240.42" x2="268.00" y2="240.42" stroke="#d2d2d2" stroke-width="0.6" stroke-dasharray="1.8 2.6"/>
<line x1="372.7" y1="240.42" x2="374.5" y2="240.42" stroke="#d2d2d2" stroke-width="0.6"/>
<line x1="377.7" y1="240.42" x2="379.7" y2="240.42" stroke="#d2d2d2" stroke-width="0.6"/>
<line x1="262" y1="246.28" x2="268.00" y2="246.28" stroke="#d2d2d2" stroke-width="0.6" stroke-dasharray="1.8 2.6"/>
<line x1="372.7" y1="246.28" x2="374.5" y2="246.28" stroke="#d2d2d2" stroke-width="0.6"/>
<line x1="377.7" y1="246.28" x2="379.7" y2="246.28" stroke="#d2d2d2" stroke-width="0.6"/>
<line x1="262" y1="252.14" x2="268.00" y2="252.14" stroke="#d2d2d2" stroke-width="0.6" stroke-dasharray="1.8 2.6"/>
<line x1="372.7" y1="252.14" x2="374.5" y2="252.14" stroke="#d2d2d2" stroke-width="0.6"/>
<line x1="377.7" y1="252.14" x2="379.7" y2="252.14" stroke="#d2d2d2" stroke-width="0.6"/>
<line x1="262" y1="258.00" x2="268.00" y2="258.00" stroke="#d2d2d2" stroke-width="0.6" stroke-dasharray="1.8 2.6"/>
<line x1="372.7" y1="258.00" x2="374.5" y2="258.00" stroke="#d2d2d2" stroke-width="0.6"/>
<line x1="377.7" y1="258.00" x2="379.7" y2="258.00" stroke="#d2d2d2" stroke-width="0.6"/>
<line x1="269.3" y1="141" x2="269.3" y2="258" stroke="#d2d2d2" stroke-width="0.5"/>
<line x1="269.3" y1="141.4" x2="371.8" y2="141.4" stroke="#e8a286" stroke-width="0.55"/>
<line x1="269.3" y1="147.5" x2="371.8" y2="147.5" stroke="#e8a286" stroke-width="0.55"/>
<line x1="269.3" y1="140" x2="269.3" y2="149" stroke="#e8a286" stroke-width="0.55"/>
<line x1="371.8" y1="140" x2="371.8" y2="149" stroke="#e8a286" stroke-width="0.55"/>
<line x1="290.3" y1="146" x2="290.3" y2="152" stroke="#e8a286" stroke-width="0.55"/>
<text x="313.7" y="141.0" font-size="3.8" fill="#c0714d" font-family="Liberation Sans" text-anchor="start">87.6 mm</text>
<text x="273.2" y="147.0" font-size="3.8" fill="#c0714d" font-family="Liberation Sans" text-anchor="start">10.3 mm</text>
<text x="323.9" y="147.0" font-size="3.8" fill="#c0714d" font-family="Liberation Sans" text-anchor="start">68.5 mm</text>
<path d="M292,144 Q296,145 298,150" stroke="#e8a286" stroke-width="0.6" fill="none"/>
<line x1="297.4" y1="148.3" x2="297.4" y2="153.3" stroke="#e8a286" stroke-width="0.55"/>
<text x="294.5" y="145.5" font-size="3.4" fill="#c0714d" font-family="Liberation Sans" text-anchor="start" transform="rotate(45 294.5 145.5)">75°</text>
<line x1="262" y1="152.2" x2="268.7" y2="152.2" stroke="#e8a286" stroke-width="0.55"/>
<line x1="262" y1="228.3" x2="268.7" y2="228.3" stroke="#e8a286" stroke-width="0.55"/>
<line x1="264.9" y1="152.2" x2="264.9" y2="258" stroke="#e8a286" stroke-width="0.55"/>
<text x="264.2" y="198" font-size="3.8" fill="#c0714d" font-family="Liberation Sans" text-anchor="start" transform="rotate(-90 264.2 198)">40.6 mm</text>
<text x="264.2" y="250" font-size="3.8" fill="#c0714d" font-family="Liberation Sans" text-anchor="start" transform="rotate(-90 264.2 250)">20.6 mm</text>
<line x1="376.7" y1="152.2" x2="376.7" y2="258" stroke="#e8a286" stroke-width="0.55"/>
<text x="377.6" y="213" font-size="3.8" fill="#c0714d" font-family="Liberation Sans" text-anchor="start" transform="rotate(-90 377.6 213)">105.5 mm</text>
<line x1="258" y1="288.80" x2="298.50" y2="288.80" stroke="#d2d2d2" stroke-width="0.6" stroke-dasharray="1.8 2.6"/>
<line x1="372.3" y1="288.80" x2="374.1" y2="288.80" stroke="#d2d2d2" stroke-width="0.6"/>
<line x1="376.4" y1="288.80" x2="378.4" y2="288.80" stroke="#d2d2d2" stroke-width="0.6"/>
<line x1="258" y1="294.23" x2="296.54" y2="294.23" stroke="#d2d2d2" stroke-width="0.6" stroke-dasharray="1.8 2.6"/>
<line x1="372.3" y1="294.23" x2="374.1" y2="294.23" stroke="#d2d2d2" stroke-width="0.6"/>
<line x1="376.4" y1="294.23" x2="378.4" y2="294.23" stroke="#d2d2d2" stroke-width="0.6"/>
<line x1="258" y1="299.66" x2="294.58" y2="299.66" stroke="#d2d2d2" stroke-width="0.6" stroke-dasharray="1.8 2.6"/>
<line x1="372.3" y1="299.66" x2="374.1" y2="299.66" stroke="#d2d2d2" stroke-width="0.6"/>
<line x1="376.4" y1="299.66" x2="378.4" y2="299.66" stroke="#d2d2d2" stroke-width="0.6"/>
<line x1="258" y1="305.08" x2="292.61" y2="305.08" stroke="#d2d2d2" stroke-width="0.6" stroke-dasharray="1.8 2.6"/>
<line x1="372.3" y1="305.08" x2="374.1" y2="305.08" stroke="#d2d2d2" stroke-width="0.6"/>
<line x1="376.4" y1="305.08" x2="378.4" y2="305.08" stroke="#d2d2d2" stroke-width="0.6"/>
<line x1="258" y1="310.51" x2="290.65" y2="310.51" stroke="#d2d2d2" stroke-width="0.6" stroke-dasharray="1.8 2.6"/>
<line x1="372.3" y1="310.51" x2="374.1" y2="310.51" stroke="#d2d2d2" stroke-width="0.6"/>
<line x1="376.4" y1="310.51" x2="378.4" y2="310.51" stroke="#d2d2d2" stroke-width="0.6"/>
<line x1="258" y1="315.94" x2="288.69" y2="315.94" stroke="#d2d2d2" stroke-width="0.6" stroke-dasharray="1.8 2.6"/>
<line x1="372.3" y1="315.94" x2="374.1" y2="315.94" stroke="#d2d2d2" stroke-width="0.6"/>
<line x1="376.4" y1="315.94" x2="378.4" y2="315.94" stroke="#d2d2d2" stroke-width="0.6"/>
<line x1="258" y1="321.37" x2="286.73" y2="321.37" stroke="#d2d2d2" stroke-width="0.6" stroke-dasharray="1.8 2.6"/>
<line x1="372.3" y1="321.37" x2="374.1" y2="321.37" stroke="#d2d2d2" stroke-width="0.6"/>
<line x1="376.4" y1="321.37" x2="378.4" y2="321.37" stroke="#d2d2d2" stroke-width="0.6"/>
<line x1="258" y1="326.79" x2="284.77" y2="326.79" stroke="#d2d2d2" stroke-width="0.6" stroke-dasharray="1.8 2.6"/>
<line x1="372.3" y1="326.79" x2="374.1" y2="326.79" stroke="#d2d2d2" stroke-width="0.6"/>
<line x1="376.4" y1="326.79" x2="378.4" y2="326.79" stroke="#d2d2d2" stroke-width="0.6"/>
<line x1="258" y1="332.22" x2="282.81" y2="332.22" stroke="#d2d2d2" stroke-width="0.6" stroke-dasharray="1.8 2.6"/>
<line x1="372.3" y1="332.22" x2="374.1" y2="332.22" stroke="#d2d2d2" stroke-width="0.6"/>
<line x1="376.4" y1="332.22" x2="378.4" y2="332.22" stroke="#d2d2d2" stroke-width="0.6"/>
<line x1="258" y1="337.65" x2="280.84" y2="337.65" stroke="#d2d2d2" stroke-width="0.6" stroke-dasharray="1.8 2.6"/>
<line x1="372.3" y1="337.65" x2="374.1" y2="337.65" stroke="#d2d2d2" stroke-width="0.6"/>
<line x1="376.4" y1="337.65" x2="378.4" y2="337.65" stroke="#d2d2d2" stroke-width="0.6"/>
<line x1="258" y1="343.08" x2="278.88" y2="343.08" stroke="#d2d2d2" stroke-width="0.6" stroke-dasharray="1.8 2.6"/>
<line x1="372.3" y1="343.08" x2="374.1" y2="343.08" stroke="#d2d2d2" stroke-width="0.6"/>
<line x1="376.4" y1="343.08" x2="378.4" y2="343.08" stroke="#d2d2d2" stroke-width="0.6"/>
<line x1="258" y1="348.51" x2="276.92" y2="348.51" stroke="#d2d2d2" stroke-width="0.6" stroke-dasharray="1.8 2.6"/>
<line x1="372.3" y1="348.51" x2="374.1" y2="348.51" stroke="#d2d2d2" stroke-width="0.6"/>
<line x1="376.4" y1="348.51" x2="378.4" y2="348.51" stroke="#d2d2d2" stroke-width="0.6"/>
<line x1="258" y1="353.93" x2="274.96" y2="353.93" stroke="#d2d2d2" stroke-width="0.6" stroke-dasharray="1.8 2.6"/>
<line x1="372.3" y1="353.93" x2="374.1" y2="353.93" stroke="#d2d2d2" stroke-width="0.6"/>
<line x1="376.4" y1="353.93" x2="378.4" y2="353.93" stroke="#d2d2d2" stroke-width="0.6"/>
<line x1="258" y1="359.36" x2="273.00" y2="359.36" stroke="#d2d2d2" stroke-width="0.6" stroke-dasharray="1.8 2.6"/>
<line x1="372.3" y1="359.36" x2="374.1" y2="359.36" stroke="#d2d2d2" stroke-width="0.6"/>
<line x1="376.4" y1="359.36" x2="378.4" y2="359.36" stroke="#d2d2d2" stroke-width="0.6"/>
<line x1="258" y1="364.79" x2="271.90" y2="364.79" stroke="#d2d2d2" stroke-width="0.6" stroke-dasharray="1.8 2.6"/>
<line x1="372.3" y1="364.79" x2="374.1" y2="364.79" stroke="#d2d2d2" stroke-width="0.6"/>
<line x1="376.4" y1="364.79" x2="378.4" y2="364.79" stroke="#d2d2d2" stroke-width="0.6"/>
<line x1="258" y1="370.22" x2="271.90" y2="370.22" stroke="#d2d2d2" stroke-width="0.6" stroke-dasharray="1.8 2.6"/>
<line x1="372.3" y1="370.22" x2="374.1" y2="370.22" stroke="#d2d2d2" stroke-width="0.6"/>
<line x1="376.4" y1="370.22" x2="378.4" y2="370.22" stroke="#d2d2d2" stroke-width="0.6"/>
<line x1="258" y1="375.64" x2="271.90" y2="375.64" stroke="#d2d2d2" stroke-width="0.6" stroke-dasharray="1.8 2.6"/>
<line x1="372.3" y1="375.64" x2="374.1" y2="375.64" stroke="#d2d2d2" stroke-width="0.6"/>
<line x1="376.4" y1="375.64" x2="378.4" y2="375.64" stroke="#d2d2d2" stroke-width="0.6"/>
<line x1="258" y1="381.07" x2="271.90" y2="381.07" stroke="#d2d2d2" stroke-width="0.6" stroke-dasharray="1.8 2.6"/>
<line x1="372.3" y1="381.07" x2="374.1" y2="381.07" stroke="#d2d2d2" stroke-width="0.6"/>
<line x1="376.4" y1="381.07" x2="378.4" y2="381.07" stroke="#d2d2d2" stroke-width="0.6"/>
<line x1="258" y1="386.50" x2="271.90" y2="386.50" stroke="#d2d2d2" stroke-width="0.6" stroke-dasharray="1.8 2.6"/>
<line x1="372.3" y1="386.50" x2="374.1" y2="386.50" stroke="#d2d2d2" stroke-width="0.6"/>
<line x1="376.4" y1="386.50" x2="378.4" y2="386.50" stroke="#d2d2d2" stroke-width="0.6"/>
<line x1="258" y1="391.93" x2="271.90" y2="391.93" stroke="#d2d2d2" stroke-width="0.6" stroke-dasharray="1.8 2.6"/>
<line x1="372.3" y1="391.93" x2="374.1" y2="391.93" stroke="#d2d2d2" stroke-width="0.6"/>
<line x1="376.4" y1="391.93" x2="378.4" y2="391.93" stroke="#d2d2d2" stroke-width="0.6"/>
<line x1="272.2" y1="278" x2="272.2" y2="390" stroke="#d2d2d2" stroke-width="0.5"/>
<line x1="272.2" y1="279.3" x2="370.9" y2="279.3" stroke="#e8a286" stroke-width="0.55"/>
<line x1="272.2" y1="285.5" x2="370.9" y2="285.5" stroke="#e8a286" stroke-width="0.55"/>
<line x1="272.2" y1="277" x2="272.2" y2="287" stroke="#e8a286" stroke-width="0.55"/>
<line x1="370.9" y1="277" x2="370.9" y2="287" stroke="#e8a286" stroke-width="0.55"/>
<line x1="299.8" y1="283" x2="299.8" y2="289" stroke="#e8a286" stroke-width="0.55"/>
<text x="315.3" y="278.9" font-size="3.8" fill="#c0714d" font-family="Liberation Sans" text-anchor="start">87.6 mm</text>
<text x="279.8" y="285.0" font-size="3.8" fill="#c0714d" font-family="Liberation Sans" text-anchor="start">23.7 mm</text>
<text x="328.7" y="285.2" font-size="3.8" fill="#c0714d" font-family="Liberation Sans" text-anchor="start">63.4 mm</text>
<path d="M301,280 Q305,282 307,287" stroke="#e8a286" stroke-width="0.6" fill="none"/>
<text x="304" y="282.5" font-size="3.4" fill="#c0714d" font-family="Liberation Sans" text-anchor="start" transform="rotate(45 304 282.5)">70°</text>
<line x1="258" y1="288.8" x2="266" y2="288.8" stroke="#e8a286" stroke-width="0.55"/>
<line x1="258" y1="362.4" x2="266" y2="362.4" stroke="#e8a286" stroke-width="0.55"/>
<line x1="262.8" y1="288.8" x2="262.8" y2="390.5" stroke="#e8a286" stroke-width="0.55"/>
<text x="262.2" y="333" font-size="3.8" fill="#c0714d" font-family="Liberation Sans" text-anchor="start" transform="rotate(-90 262.2 333)">73.6 mm</text>
<text x="262.2" y="384" font-size="3.8" fill="#c0714d" font-family="Liberation Sans" text-anchor="start" transform="rotate(-90 262.2 384)">28.0 mm</text>
<line x1="375.4" y1="288.4" x2="375.4" y2="390.5" stroke="#e8a286" stroke-width="0.55"/>
<text x="376.3" y="347" font-size="3.8" fill="#c0714d" font-family="Liberation Sans" text-anchor="start" transform="rotate(-90 376.3 347)">101.5 mm</text>
<clipPath id="cbd1"><rect x="240" y="16.0" width="127.80" height="102.80"/></clipPath><g clip-path="url(#cbd1)"><rect x="277.81" y="17.00" width="93.99" height="5.470" rx="2.46" ry="2.46" fill="url(#stripe)"/><rect x="277.07" y="22.47" width="94.73" height="5.470" rx="2.46" ry="2.46" fill="url(#stripe)"/><rect x="276.33" y="27.94" width="95.47" height="5.470" rx="2.46" ry="2.46" fill="url(#stripe)"/><rect x="275.60" y="33.41" width="96.20" height="5.470" rx="2.46" ry="2.46" fill="url(#stripe)"/><rect x="274.86" y="38.88" width="96.94" height="5.470" rx="2.46" ry="2.46" fill="url(#stripe)"/><rect x="274.13" y="44.35" width="97.67" height="5.470" rx="2.46" ry="2.46" fill="url(#stripe)"/><rect x="273.39" y="49.82" width="98.41" height="5.470" rx="2.46" ry="2.46" fill="url(#stripe)"/><rect x="272.66" y="55.29" width="99.14" height="5.470" rx="2.46" ry="2.46" fill="url(#stripe)"/><rect x="271.92" y="60.76" width="99.88" height="5.470" rx="2.46" ry="2.46" fill="url(#stripe)"/><rect x="271.19" y="66.23" width="100.61" height="5.470" rx="2.46" ry="2.46" fill="url(#stripe)"/><rect x="270.45" y="71.70" width="101.35" height="5.470" rx="2.46" ry="2.46" fill="url(#stripe)"/><rect x="269.72" y="77.17" width="102.08" height="5.470" rx="2.46" ry="2.46" fill="url(#stripe)"/><rect x="268.98" y="82.64" width="102.82" height="5.470" rx="2.46" ry="2.46" fill="url(#stripe)"/><rect x="268.24" y="88.11" width="103.56" height="5.470" rx="2.46" ry="2.46" fill="url(#stripe)"/><rect x="267.51" y="93.58" width="104.29" height="5.470" rx="2.46" ry="2.46" fill="url(#stripe)"/><rect x="266.77" y="99.05" width="105.03" height="5.470" rx="2.46" ry="2.46" fill="url(#stripe)"/><rect x="266.04" y="104.52" width="105.76" height="5.470" rx="2.46" ry="2.46" fill="url(#stripe)"/><rect x="265.30" y="109.99" width="106.50" height="5.470" rx="2.46" ry="2.46" fill="url(#stripe)"/><rect x="264.57" y="115.46" width="107.23" height="5.470" rx="2.46" ry="2.46" fill="url(#stripe)"/></g>
<clipPath id="cbd2"><rect x="240" y="151.6" width="131.50" height="106.40"/></clipPath><g clip-path="url(#cbd2)"><rect x="289.27" y="152.60" width="86.23" height="5.790" rx="2.61" ry="2.61" fill="url(#stripe)"/><rect x="287.65" y="158.39" width="87.85" height="5.790" rx="2.61" ry="2.61" fill="url(#stripe)"/><rect x="286.04" y="164.18" width="89.46" height="5.790" rx="2.61" ry="2.61" fill="url(#stripe)"/><rect x="284.43" y="169.97" width="91.07" height="5.790" rx="2.61" ry="2.61" fill="url(#stripe)"/><rect x="282.82" y="175.76" width="92.68" height="5.790" rx="2.61" ry="2.61" fill="url(#stripe)"/><rect x="281.21" y="181.55" width="94.29" height="5.790" rx="2.61" ry="2.61" fill="url(#stripe)"/><rect x="279.60" y="187.34" width="95.90" height="5.790" rx="2.61" ry="2.61" fill="url(#stripe)"/><rect x="277.98" y="193.13" width="97.52" height="5.790" rx="2.61" ry="2.61" fill="url(#stripe)"/><rect x="276.37" y="198.92" width="99.13" height="5.790" rx="2.61" ry="2.61" fill="url(#stripe)"/><rect x="274.76" y="204.71" width="100.74" height="5.790" rx="2.61" ry="2.61" fill="url(#stripe)"/><rect x="273.15" y="210.50" width="102.35" height="5.790" rx="2.61" ry="2.61" fill="url(#stripe)"/><rect x="271.54" y="216.29" width="103.96" height="5.790" rx="2.61" ry="2.61" fill="url(#stripe)"/><rect x="269.93" y="222.08" width="105.57" height="5.790" rx="2.61" ry="2.61" fill="url(#stripe)"/><rect x="269.00" y="227.87" width="106.50" height="5.790" rx="2.61" ry="2.61" fill="url(#stripe)"/><rect x="269.00" y="233.66" width="106.50" height="5.790" rx="2.61" ry="2.61" fill="url(#stripe)"/><rect x="269.00" y="239.45" width="106.50" height="5.790" rx="2.61" ry="2.61" fill="url(#stripe)"/><rect x="269.00" y="245.24" width="106.50" height="5.790" rx="2.61" ry="2.61" fill="url(#stripe)"/><rect x="269.00" y="251.03" width="106.50" height="5.790" rx="2.61" ry="2.61" fill="url(#stripe)"/><rect x="269.00" y="256.82" width="106.50" height="5.790" rx="2.61" ry="2.61" fill="url(#stripe)"/></g>
<clipPath id="cbd3"><rect x="240" y="287.8" width="131.10" height="102.50"/></clipPath><g clip-path="url(#cbd3)"><rect x="298.51" y="288.80" width="76.59" height="5.500" rx="2.48" ry="2.48" fill="url(#stripe)"/><rect x="296.52" y="294.30" width="78.58" height="5.500" rx="2.48" ry="2.48" fill="url(#stripe)"/><rect x="294.53" y="299.80" width="80.57" height="5.500" rx="2.48" ry="2.48" fill="url(#stripe)"/><rect x="292.54" y="305.30" width="82.56" height="5.500" rx="2.48" ry="2.48" fill="url(#stripe)"/><rect x="290.56" y="310.80" width="84.54" height="5.500" rx="2.48" ry="2.48" fill="url(#stripe)"/><rect x="288.57" y="316.30" width="86.53" height="5.500" rx="2.48" ry="2.48" fill="url(#stripe)"/><rect x="286.58" y="321.80" width="88.52" height="5.500" rx="2.48" ry="2.48" fill="url(#stripe)"/><rect x="284.59" y="327.30" width="90.51" height="5.500" rx="2.48" ry="2.48" fill="url(#stripe)"/><rect x="282.60" y="332.80" width="92.50" height="5.500" rx="2.48" ry="2.48" fill="url(#stripe)"/><rect x="280.62" y="338.30" width="94.48" height="5.500" rx="2.48" ry="2.48" fill="url(#stripe)"/><rect x="278.63" y="343.80" width="96.47" height="5.500" rx="2.48" ry="2.48" fill="url(#stripe)"/><rect x="276.64" y="349.30" width="98.46" height="5.500" rx="2.48" ry="2.48" fill="url(#stripe)"/><rect x="274.65" y="354.80" width="100.45" height="5.500" rx="2.48" ry="2.48" fill="url(#stripe)"/><rect x="272.90" y="360.30" width="102.20" height="5.500" rx="2.48" ry="2.48" fill="url(#stripe)"/><rect x="272.90" y="365.80" width="102.20" height="5.500" rx="2.48" ry="2.48" fill="url(#stripe)"/><rect x="272.90" y="371.30" width="102.20" height="5.500" rx="2.48" ry="2.48" fill="url(#stripe)"/><rect x="272.90" y="376.80" width="102.20" height="5.500" rx="2.48" ry="2.48" fill="url(#stripe)"/><rect x="272.90" y="382.30" width="102.20" height="5.500" rx="2.48" ry="2.48" fill="url(#stripe)"/><rect x="272.90" y="387.80" width="102.20" height="5.500" rx="2.48" ry="2.48" fill="url(#stripe)"/></g><circle cx="567.5" cy="41.40" r="1.8" fill="#111"/>
<circle cx="567.5" cy="52.55" r="1.8" fill="#111"/>
<circle cx="567.5" cy="63.70" r="1.8" fill="#111"/>
<circle cx="567.5" cy="74.85" r="1.8" fill="#111"/>
<circle cx="567.5" cy="86.00" r="1.8" fill="#111"/>
<circle cx="577.7" cy="175.80" r="1.8" fill="#111"/>
<circle cx="577.7" cy="186.95" r="1.8" fill="#111"/>
<circle cx="577.7" cy="198.10" r="1.8" fill="#111"/>
<circle cx="577.7" cy="209.25" r="1.8" fill="#111"/>
<circle cx="577.7" cy="220.40" r="1.8" fill="#111"/>
<circle cx="581.2" cy="310.80" r="1.8" fill="#111"/>
<circle cx="581.2" cy="321.95" r="1.8" fill="#111"/>
<circle cx="581.2" cy="333.10" r="1.8" fill="#111"/>
<circle cx="581.2" cy="344.25" r="1.8" fill="#111"/>
<circle cx="581.2" cy="355.40" r="1.8" fill="#111"/>
</svg>
<div class="layer">
<div class="t" style="left:6.75px;top:8.23px;font-size:11.192px;font-weight:700;color:#1e1e1e;transform:scaleX(0.9269);-webkit-text-stroke:0.25px #1e1e1e;">Facade - Opening Exploration</div>
<div class="t" style="left:76.19px;top:221.03px;font-size:11.192px;font-weight:700;color:#4b4b4b;transform:scaleX(0.9404);-webkit-text-stroke:0.25px #4b4b4b;">Robotic Printing</div>
<div class="t" style="left:97.03px;top:255.41px;font-size:8.140px;font-weight:400;color:#505050;transform:scaleX(1.0293);text-decoration:underline;text-decoration-thickness:0.6px;text-underline-offset:1px;">Parameters</div>
<div class="t" style="left:88.14px;top:285.30px;font-size:7.558px;font-weight:400;color:#b23b3b;transform:scaleX(0.9220);">Layer&nbsp; Height&nbsp; -&nbsp; 5 mm</div>
<div class="t" style="left:79.53px;top:303.50px;font-size:7.558px;font-weight:400;color:#b23b3b;transform:scaleX(0.9478);">Layer&nbsp; Thickness&nbsp; -&nbsp; 12 mm</div>
<div class="t" style="left:61.26px;top:322.66px;font-size:7.849px;font-weight:400;color:#b23b3b;transform:scaleX(0.8829);">Cantilever angle&nbsp; -&nbsp; 80 , 75 % 70 degree</div>
<div class="t" style="left:13.14px;top:395.73px;font-size:7.994px;font-weight:700;color:#1e1e1e;transform:scaleX(1.1195);-webkit-text-stroke:0.25px #1e1e1e;">Robotic Exploration - Opening</div>
<div class="t" style="left:275.15px;top:122.08px;font-size:9.593px;font-weight:700;color:#141414;transform:scaleX(0.9069);-webkit-text-stroke:0.25px #141414;">ELEVATION - 80 degree</div>
<div class="t" style="left:264.85px;top:260.88px;font-size:9.593px;font-weight:700;color:#141414;transform:scaleX(0.9087);-webkit-text-stroke:0.25px #141414;">ELEVATION - 75 degree</div>
<div class="t" style="left:266.92px;top:398.07px;font-size:9.012px;font-weight:700;color:#141414;transform:scaleX(0.9698);-webkit-text-stroke:0.25px #141414;">ELEVATION - 70 degree</div>
<div class="t" style="left:449.12px;top:119.51px;font-size:8.140px;font-weight:700;color:#1e1e1e;transform:scaleX(0.9540);-webkit-text-stroke:0.25px #1e1e1e;">Prototype Image</div>
<div class="t" style="left:454.01px;top:258.06px;font-size:7.849px;font-weight:700;color:#1e1e1e;transform:scaleX(0.9827);-webkit-text-stroke:0.25px #1e1e1e;">Prototype Image</div>
<div class="t" style="left:453.74px;top:394.06px;font-size:8.430px;font-weight:700;color:#1e1e1e;transform:scaleX(0.9165);-webkit-text-stroke:0.25px #1e1e1e;">Prototype Image</div>
<div class="t" style="left:572.42px;top:19.19px;font-size:8.866px;font-weight:700;color:#1e1e1e;transform:scaleX(0.9552);-webkit-text-stroke:0.25px #1e1e1e;">Results.</div>
<div class="t" style="left:577.42px;top:148.39px;font-size:8.866px;font-weight:700;color:#1e1e1e;transform:scaleX(0.9654);-webkit-text-stroke:0.25px #1e1e1e;">Results<span style="font-weight:400">.</span></div>
<div class="t" style="left:579.39px;top:283.86px;font-size:8.430px;font-weight:700;color:#1e1e1e;transform:scaleX(1.0173);-webkit-text-stroke:0.25px #1e1e1e;">Results.</div>
<div class="t" style="left:574.10px;top:37.46px;font-size:8.200px;color:#222;transform:scaleX(1.0)">&nbsp;No crack formation</div>
<div class="t" style="left:574.10px;top:48.61px;font-size:8.200px;color:#222;transform:scaleX(1.0)">10% form deformation</div>
<div class="t" style="left:574.10px;top:59.76px;font-size:8.200px;color:#222;transform:scaleX(1.0)">Uneven Layer</div>
<div class="t" style="left:574.10px;top:70.91px;font-size:8.200px;color:#222;transform:scaleX(1.0)">No accelerent.</div>
<div class="t" style="left:574.10px;top:82.06px;font-size:8.200px;color:#222;transform:scaleX(1.0)">5 minutes between mixing and</div>
<div class="t" style="left:574.10px;top:93.21px;font-size:8.200px;color:#222;transform:scaleX(1.0)">printing</div>
<div class="t" style="left:584.80px;top:171.86px;font-size:8.200px;color:#222;transform:scaleX(1.0)">&nbsp;No crack formation</div>
<div class="t" style="left:584.80px;top:183.01px;font-size:8.200px;color:#222;transform:scaleX(1.0)">10% form deformation</div>
<div class="t" style="left:584.80px;top:194.16px;font-size:8.200px;color:#222;transform:scaleX(1.0)">Uneven Layer</div>
<div class="t" style="left:584.80px;top:205.31px;font-size:8.200px;color:#222;transform:scaleX(1.0)">No accelerent.</div>
<div class="t" style="left:584.80px;top:216.46px;font-size:8.200px;color:#222;transform:scaleX(1.0)">12 minutes between mixing and</div>
<div class="t" style="left:584.80px;top:227.61px;font-size:8.200px;color:#222;transform:scaleX(1.0)">printing</div>
<div class="t" style="left:588.10px;top:306.86px;font-size:8.200px;color:#222;transform:scaleX(1.0)">&nbsp;No crack formation</div>
<div class="t" style="left:588.10px;top:318.01px;font-size:8.200px;color:#222;transform:scaleX(1.0)">25% form deformation</div>
<div class="t" style="left:588.10px;top:329.16px;font-size:8.200px;color:#222;transform:scaleX(1.0)">Uneven Layer</div>
<div class="t" style="left:588.10px;top:340.31px;font-size:8.200px;color:#222;transform:scaleX(1.0)">No accelerent.</div>
<div class="t" style="left:588.10px;top:351.46px;font-size:8.200px;color:#222;transform:scaleX(1.0)">20 minutes between mixing and</div>
<div class="t" style="left:588.10px;top:362.61px;font-size:8.200px;color:#222;transform:scaleX(1.0)">printing.</div>
</div>
</body></html>
